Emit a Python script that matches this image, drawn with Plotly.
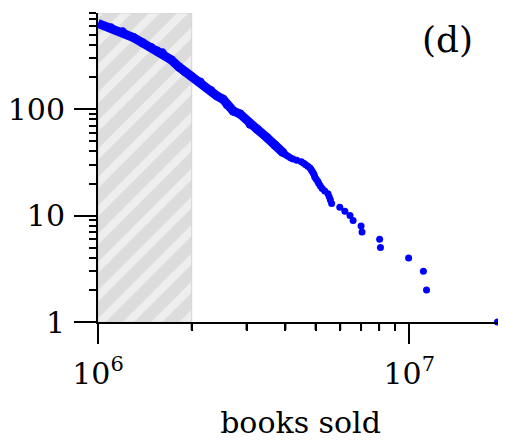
import numpy as np
import plotly.graph_objects as go

# rank (number of titles selling at least x copies) vs copies sold
sparse_rank = [1, 2, 3, 4, 5, 6, 7, 8, 9, 10, 11, 12, 13, 14, 15, 16, 17, 18, 19, 20,
               21, 22, 23, 24, 25, 26, 27, 28, 29, 30, 31, 32, 33, 34, 35, 36, 37, 38, 39]
sparse_sold = [1.92e7, 1.136e7, 1.11e7, 9.95e6, 8.08e6, 8.03e6, 7.05e6, 7.0e6, 6.6e6, 6.45e6,
               6.21e6, 5.98e6, 5.63e6, 5.58e6, 5.53e6, 5.48e6, 5.35e6, 5.25e6, 5.18e6, 5.12e6,
               5.08e6, 5.02e6, 4.97e6, 4.95e6, 4.92e6, 4.88e6, 4.84e6, 4.8e6, 4.72e6, 4.65e6,
               4.58e6, 4.5e6, 4.35e6, 4.23e6, 4.15e6, 4.08e6, 4.02e6, 3.97e6, 3.93e6]

dense_rank = [640, 580, 532, 470, 420, 380, 352, 338, 290, 249, 225, 205, 180, 150, 133,
              124, 110, 96, 90, 72, 65, 54, 46, 39]
dense_sold = [1.0e6, 1.1e6, 1.2e6, 1.3e6, 1.39e6, 1.48e6, 1.55e6, 1.61e6, 1.72e6, 1.82e6,
              1.9e6, 1.99e6, 2.13e6, 2.3e6, 2.41e6, 2.52e6, 2.6e6, 2.72e6, 2.86e6, 3.08e6,
              3.24e6, 3.49e6, 3.7e6, 3.93e6]

cut_lo, cut_hi = 1e6, 2e6
x_max, y_max = 2e7, 800

x_major = [1e6, 1e7]
x_major_text = ["10<sup>6</sup>", "10<sup>7</sup>"]
x_minor = [2e6, 3e6, 4e6, 5e6, 6e6, 7e6, 8e6, 9e6, 2e7]
y_major = [1, 10, 100]
y_major_text = ["1", "10", "100"]
y_minor = [2, 3, 4, 5, 6, 7, 8, 9, 20, 30, 40, 50, 60, 70, 80, 90,
           200, 300, 400, 500, 600, 700, 800]

blue = "#0000ff"
serif = "DejaVu Serif"
x_range = [np.log10(cut_lo), np.log10(x_max)]

fig = go.Figure()
fig.add_trace(go.Scatter(
    x=[cut_lo, cut_hi, cut_hi, cut_lo, cut_lo], y=[1, 1, y_max, y_max, 1],
    mode="lines", fill="toself", fillcolor="#dcdcdc",
    fillpattern=dict(shape="/", bgcolor="#dcdcdc", fgcolor="white", size=20, solidity=0.4),
    line=dict(color="#d4d4d4", width=1), hoverinfo="skip", showlegend=False))
fig.add_trace(go.Scatter(x=dense_sold, y=dense_rank, mode="lines+markers",
                         line=dict(color=blue, width=9),
                         marker=dict(color=blue, size=9), showlegend=False))
fig.add_trace(go.Scatter(x=sparse_sold, y=sparse_rank, mode="markers", cliponaxis=False,
                         marker=dict(color=blue, size=7), showlegend=False))

# short minor ticks under the x axis, placed through the log scale of the x range
for v in x_minor:
    px = (np.log10(v) - x_range[0]) / (x_range[1] - x_range[0])
    fig.add_shape(type="line", xref="paper", yref="paper", x0=px, x1=px,
                  ysizemode="pixel", yanchor=0, y0=0, y1=-8,
                  line=dict(color="black", width=2), layer="above")

fig.add_annotation(text="(d)", xref="paper", yref="paper", x=0.862, y=0.913,
                   xanchor="center", yanchor="middle",
                   showarrow=False, font=dict(family=serif, size=36, color="black"))

# the page body has an 8px margin, so the figure is 8px smaller than the window
fig.update_layout(
    width=498, height=432, margin=dict(l=90, r=3, t=5, b=118),
    plot_bgcolor="white", paper_bgcolor="white",
    xaxis=dict(type="log", range=x_range, automargin=False,
               showline=True, linecolor="black", linewidth=2, showgrid=False, zeroline=False,
               ticks="outside", ticklen=20, tickwidth=2, tickcolor="black",
               tickmode="array", tickvals=x_major, ticktext=x_major_text,
               ticklabelstandoff=4,
               tickfont=dict(family=serif, size=30, color="black"),
               minor=dict(ticks="outside", ticklen=7, tickwidth=2, tickcolor="black",
                          tickmode="array", tickvals=x_minor, showgrid=False),
               title=dict(text="books sold", font=dict(family=serif, size=30, color="black"),
                          standoff=28)),
    yaxis=dict(type="log", range=[0, np.log10(y_max)], automargin=False,
               showline=True, linecolor="black", linewidth=2, showgrid=False, zeroline=False,
               ticks="outside", ticklen=22, tickwidth=2, tickcolor="black",
               tickmode="array", tickvals=y_major, ticktext=y_major_text,
               ticklabelstandoff=3,
               tickfont=dict(family=serif, size=30, color="black"),
               minor=dict(ticks="outside", ticklen=7, tickwidth=2, tickcolor="black",
                          tickmode="array", tickvals=y_minor, showgrid=False)),
)

fig.write_html("out.html")
